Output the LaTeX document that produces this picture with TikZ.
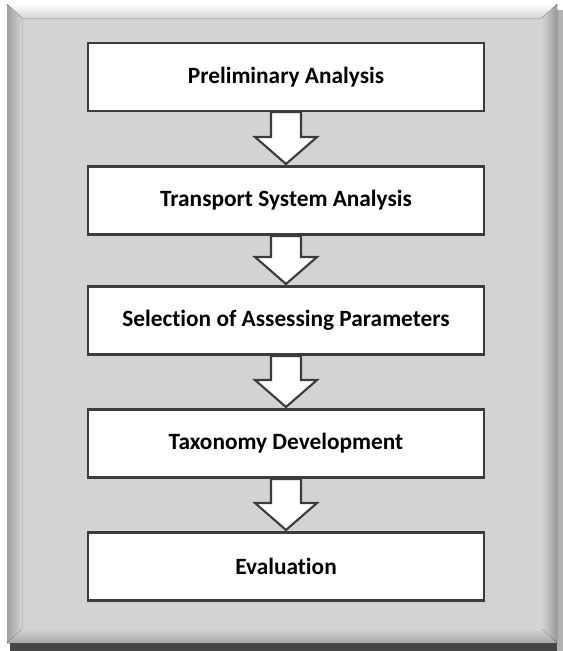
\documentclass[tikz,border=0pt]{standalone}
\usepackage{fontspec}
\setmainfont[Ligatures=NoCommon]{Carlito}
\definecolor{panel}{HTML}{D3D3D3}
\definecolor{edge}{HTML}{3C3C3C}
\tikzset{
  stagebox/.style={draw=edge, line width=2.2pt, fill=white, minimum width=396*0.75pt, minimum height=68*0.75pt, inner sep=0pt, font=\fontsize{17.5}{20}\selectfont\bfseries},
  blockarrow/.style={draw=edge, line width=1.6pt, fill=white, line join=miter}
}
\newcommand{\downarrowblock}[2]{%
  % #1 = top y, #2 = tip y ; center x = 286
  \draw[blockarrow] (271,#1) -- (301,#1) -- (301,{#2-27}) -- (317,{#2-27}) -- (286,#2) -- (255,{#2-27}) -- (271,{#2-27}) -- cycle;
}
\begin{document}
\begin{tikzpicture}[x=0.75pt,y=-0.75pt]
\useasboundingbox (0,0) rectangle (563,651);
\fill[white] (0,0) rectangle (563,651);
% shadow
\fill[edge!95] (10,643) rectangle (563,651);
\fill[gray!60] (557,10) rectangle (563,651);
% panel with bevel
\fill[panel] (7,4) rectangle (557,643);
\fill[top color=white!95!panel, bottom color=panel] (7,4) -- (557,4) -- (542,18) -- (22,18) -- cycle;
\fill[left color=gray!75, right color=panel] (7,4) -- (22,18) -- (22,629) -- (7,643) -- cycle;
\fill[left color=panel, right color=gray!80] (557,4) -- (557,643) -- (542,629) -- (542,18) -- cycle;
\fill[top color=panel, bottom color=gray!70] (7,643) -- (22,629) -- (542,629) -- (557,643) -- cycle;
% stages
\node[stagebox] (s1) at (286,77) {Preliminary Analysis};
\node[stagebox] (s2) at (286,200.5) {Transport System Analysis};
\node[stagebox] (s3) at (286,320.5) {Selection of Assessing Parameters};
\node[stagebox] (s4) at (286,443.5) {Taxonomy Development};
\node[stagebox] (s5) at (286,566.5) {Evaluation};
% arrows
\downarrowblock{112}{164}
\downarrowblock{236}{284}
\downarrowblock{356}{407}
\downarrowblock{479}{530}
\end{tikzpicture}
\end{document}
